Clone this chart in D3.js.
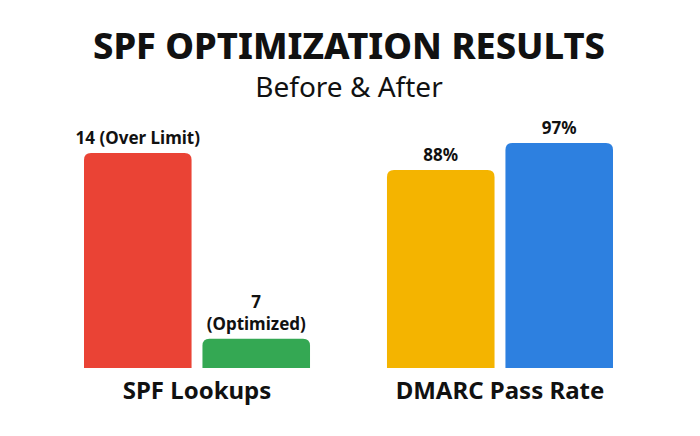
<!DOCTYPE html>
<html>
<head>
<meta charset="utf-8">
<script src="https://cdn.jsdelivr.net/npm/d3@7"></script>
<style>
  html, body { margin: 0; padding: 0; background: #fff; }
  svg { display: block; }
</style>
</head>
<body>
<div id="chart"></div>
<script>
// chart data
var groups = ["SPF Lookups", "DMARC Pass Rate"];
var spfValues = [14, 7];
var spfLabels = [["14 (Over Limit)"], ["7", "(Optimized)"]];
var dmarcValues = [88, 97];
var dmarcLabels = [["88%"], ["97%"]];
var colors = ["#EA4335", "#34A853", "#F4B400", "#2D80E0"];

var width = 700, height = 436;
var baseY = 368;

var svg = d3.select("#chart").append("svg")
    .attr("width", width)
    .attr("height", height);

// title
svg.append("text")
    .attr("x", 349).attr("y", 59)
    .attr("text-anchor", "middle")
    .attr("textLength", 512)
    .attr("lengthAdjust", "spacingAndGlyphs")
    .style("font-family", "'Noto Sans', sans-serif")
    .style("font-weight", 800)
    .style("font-size", "35px")
    .style("fill", "#111")
    .text("SPF OPTIMIZATION RESULTS");

svg.append("text")
    .attr("x", 349).attr("y", 97)
    .attr("text-anchor", "middle")
    .style("font-family", "'Noto Sans', sans-serif")
    .style("font-size", "28px")
    .style("fill", "#111")
    .text("Before & After");

// group positions
var x0 = d3.scaleBand()
    .domain(groups)
    .range([84, 613])
    .paddingInner(0.254);

// each panel uses its own value axis (not starting at zero)
var ySpf = d3.scaleLinear().domain([5.9, 14]).range([baseY, 153]);
var yDmarc = d3.scaleLinear().domain([22, 97]).range([baseY, 143]);

var panels = [
    { name: groups[0], values: spfValues, labels: spfLabels, y: ySpf, colors: colors.slice(0, 2) },
    { name: groups[1], values: dmarcValues, labels: dmarcLabels, y: yDmarc, colors: colors.slice(2, 4) }
];

function topRounded(x, y, w, h, r) {
    return "M" + x + "," + (y + h) +
        "V" + (y + r) +
        "Q" + x + "," + y + " " + (x + r) + "," + y +
        "H" + (x + w - r) +
        "Q" + (x + w) + "," + y + " " + (x + w) + "," + (y + r) +
        "V" + (y + h) + "Z";
}

panels.forEach(function (p) {
    var x1 = d3.scaleBand()
        .domain(d3.range(p.values.length))
        .range([x0(p.name), x0(p.name) + x0.bandwidth()])
        .paddingInner(0.092);

    var g = svg.append("g");

    g.selectAll("path.bar")
        .data(p.values)
        .enter()
        .append("path")
        .attr("class", "bar")
        .attr("fill", function (d, i) { return p.colors[i]; })
        .attr("d", function (d, i) {
            var y = p.y(d);
            return topRounded(x1(i), y, x1.bandwidth(), baseY - y, 7);
        });

    g.selectAll("text.val")
        .data(p.values)
        .enter()
        .append("text")
        .attr("class", "val")
        .attr("text-anchor", "middle")
        .attr("x", function (d, i) { return x1(i) + x1.bandwidth() / 2; })
        .attr("y", function (d, i) { return p.y(d) - 9 - (p.labels[i].length - 1) * 22; })
        .style("font-family", "'Noto Sans', sans-serif")
        .style("font-weight", 700)
        .style("font-size", "17px")
        .style("fill", "#111")
        .each(function (d, i) {
            var t = d3.select(this);
            p.labels[i].forEach(function (line, k) {
                t.append("tspan")
                    .attr("x", x1(i) + x1.bandwidth() / 2)
                    .attr("dy", k === 0 ? 0 : 22)
                    .text(line);
            });
        });

    g.append("text")
        .attr("x", x0(p.name) + x0.bandwidth() / 2)
        .attr("y", 399)
        .attr("text-anchor", "middle")
        .style("font-family", "'Noto Sans', sans-serif")
        .style("font-weight", 700)
        .style("font-size", "24px")
        .style("fill", "#111")
        .text(p.name);
});
</script>
</body>
</html>
